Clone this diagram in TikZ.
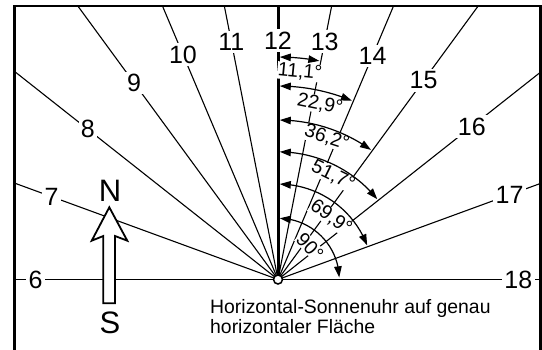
\documentclass[tikz,border=0pt]{standalone}
\usepackage{fontspec}
\setmainfont{Liberation Sans}
\usetikzlibrary{arrows.meta,bending,calc}
\begin{document}
\begin{tikzpicture}[x=1pt,y=1pt,
  hourline/.style={line width=1.1pt},
  hourlab/.style={fill=white, inner sep=2.3pt, font=\fontsize{25}{28}\selectfont},
  anglab/.style={fill=white, inner sep=0.6pt, font=\fontsize{19.5}{22}\selectfont},
  anglearc/.style={line width=1.2pt, {Triangle[length=11pt,width=7.5pt]}-{Triangle[length=11pt,width=7.5pt]}},
  compass/.style={font=\fontsize{31}{34}\selectfont, inner sep=0pt},
  caption/.style={anchor=base west, inner sep=0pt, font=\fontsize{19.4}{20}\selectfont},
]
\useasboundingbox (0,0) rectangle (542,349);
\coordinate (O) at (278,69.5);
% hour lines
\begin{scope}
\clip (14.7,-1) rectangle (540.5,343);
\foreach \a in {11.1,22.9,36.2,51.7,69.9}{
  \draw[hourline] (O) -- ++(90-\a:600);
  \draw[hourline] (O) -- ++(90+\a:600);
}
\draw[hourline] (O) -- ++(0:600);
\draw[hourline] (O) -- ++(180:600);
\end{scope}
\draw[line width=3pt] (O) -- (278,343);
% hour labels
\foreach \h/\a/\r in {12/0/239, 13/11.1/242.5, 14/22.9/243, 15/36.2/246.6, 16/51.7/247, 17/69.9/246.6, 18/90/240.3, 11/-11.1/242, 10/-22.9/244.2, 9/-36.2/243.8, 8/-51.7/242.4, 7/-69.9/241, 6/-90/242.3}
  \node[hourlab] (h\h) at ($(O)+(90-\a:\r)$) {\h};
% angle labels
\node[anglab, rotate=-5.5] (a1) at ($(O)+(90-6.05:208.7)$) {11,1°};
\node[anglab, rotate=-11.5] (a2) at ($(O)+(90-13.5:180)$) {22,9°};
\node[anglab, rotate=-18] (a3) at ($(O)+(90-19:150)$) {36,2°};
\node[anglab, rotate=-26] (a4) at ($(O)+(90-27.9:117.6)$) {51,7°};
\node[anglab, rotate=-36] (a5) at ($(O)+(90-40.5:81.6)$) {69,9°};
\node[anglab, rotate=-47] (a6) at ($(O)+(90-44:46)$) {90°};
% angle arcs
\draw[anglearc] ($(O)+(89.54:222.5)$) arc[start angle=89.54, end angle=79.29, radius=222.5];
\draw[anglearc] ($(O)+(89.47:193.5)$) arc[start angle=89.47, end angle=67.54, radius=193.5];
\draw[anglearc] ($(O)+(89.35:159.5)$) arc[start angle=89.35, end angle=54.34, radius=159.5];
\draw[anglearc] ($(O)+(89.19:127.7)$) arc[start angle=89.19, end angle=38.97, radius=127.7];
\draw[anglearc] ($(O)+(88.92:95.5)$) arc[start angle=88.92, end angle=21.0, radius=95.5];
\draw[anglearc] ($(O)+(88.32:61.3)$) arc[start angle=88.32, end angle=2.0, radius=61.3];
% frame
\draw[line width=2.7pt, line join=miter] (14.7,-5) -- (14.7,343) -- (540.5,343) -- (540.5,-5);
% gnomon foot
\node[circle, draw, fill=white, line width=1.5pt, minimum size=9pt, inner sep=0pt] (ctr) at (O) {};
% north arrow
\draw[line width=1.8pt, fill=white, line join=miter] (109.3,141.7) -- (127.3,108.3) -- (115,113) -- (115,45.7) -- (103.3,45.7) -- (103.3,113) -- (91.7,108.3) -- cycle;
\node[compass] (N) at (110,158.5) {N};
\node[compass] (S) at (110,26) {S};
% caption
\node[caption] (t1) at (210,35.7) {Horizontal-Sonnenuhr auf genau};
\node[caption] (t2) at (210,15.7) {horizontaler Fläche};
\end{tikzpicture}
\end{document}
